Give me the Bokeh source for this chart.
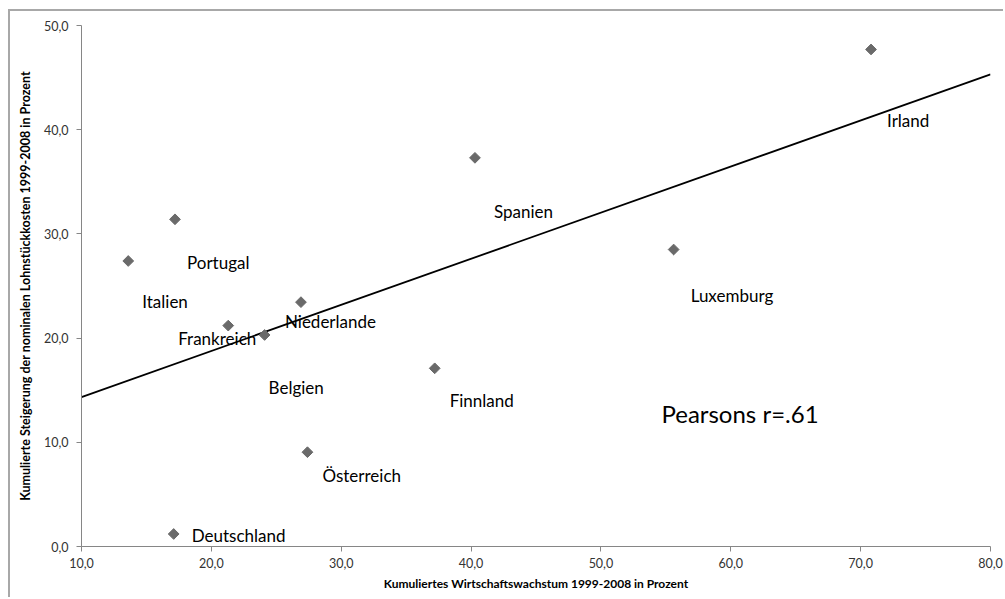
import numpy as np
from bokeh.plotting import figure
from bokeh.models import ColumnDataSource, Label, SingleIntervalTicker, CustomJSTickFormatter, Range1d
from bokeh.core.properties import value
from bokeh.embed import file_html
from bokeh.resources import INLINE

# ---- data ----
countries = ["Irland", "Spanien", "Luxemburg", "Portugal", "Italien", "Niederlande",
             "Frankreich", "Belgien", "Finnland", "Österreich", "Deutschland"]
growth = [70.8, 40.3, 55.6, 17.2, 13.6, 26.9, 21.3, 24.1, 37.2, 27.4, 17.1]
labour_cost = [47.7, 37.3, 28.5, 31.4, 27.4, 23.45, 21.2, 20.3, 17.1, 9.05, 1.2]
annotation_text = "Pearsons r=.61"
x_title = "Kumuliertes Wirtschaftswachstum 1999-2008 in Prozent"
y_title = "Kumulierte Steigerung der nominalen Lohnstückkosten 1999-2008 in Prozent"

# label offsets (pixels, style only)
label_dx = [16, 19, 17, 12, 14, -16, -50, 4, 15, 15, 18]
label_dy = [71, 54, 46, 43, 41, 19, 13, 53, 32, 23, 2]

FONT = "Lato"

p = figure(width=995, height=588, output_backend="svg", toolbar_location=None,
           x_range=Range1d(10, 80), y_range=Range1d(0, 50),
           min_border_left=71, min_border_right=15, min_border_top=14, min_border_bottom=53)
p.styles = {"margin-left": "8px", "margin-top": "9px",
            "border-top": "2px solid #a8a8a8", "border-left": "2px solid #a8a8a8"}
p.outline_line_color = None
p.xgrid.visible = False
p.ygrid.visible = False
p.background_fill_color = "white"
p.border_fill_color = "white"

# trend line (least squares from the data)
slope, intercept = np.polyfit(np.array(growth), np.array(labour_cost), 1)
xl = np.array([p.x_range.start, p.x_range.end])
p.line(xl, slope * xl + intercept, line_color="black", line_width=1.8)

src = ColumnDataSource(dict(x=growth, y=labour_cost, name=countries, dx=label_dx, dy=label_dy))
p.scatter("x", "y", source=src, marker="square", size=7.6, angle=np.pi / 4,
          fill_color="#6a6a6a", line_color="#6a6a6a")
p.text("x", "y", text="name", source=src, x_offset="dx", y_offset="dy",
       text_font=value(FONT), text_font_size="17px", text_color="black",
       text_align="left", text_baseline="middle")

p.add_layout(Label(x=54.66, y=12.73, text=annotation_text, text_font=FONT,
                   text_font_size="24px", text_color="black", text_baseline="middle"))

fmt = CustomJSTickFormatter(code="return tick.toFixed(1).replace('.', ',');")
for ax in (p.xaxis[0], p.yaxis[0]):
    ax.ticker = SingleIntervalTicker(interval=10, num_minor_ticks=0)
    ax.formatter = fmt
    ax.axis_line_color = "#868686"
    ax.major_tick_line_color = "#868686"
    ax.major_tick_out = 5
    ax.major_tick_in = 0
    ax.minor_tick_line_color = None
    ax.major_label_text_font = FONT
    ax.major_label_text_font_size = "12.5px"
    ax.major_label_text_color = "#333333"
    ax.axis_label_text_font = FONT
    ax.axis_label_text_font_style = "bold"
    ax.axis_label_text_color = "black"

p.xaxis.axis_label_text_font_size = "12px"
p.yaxis.axis_label_text_font_size = "12.5px"
p.xaxis.axis_label = x_title
p.yaxis.axis_label = y_title
p.xaxis.major_label_standoff = 6
p.xaxis.axis_label_standoff = 5
p.yaxis.major_label_standoff = 8
p.yaxis.axis_label_standoff = 8

open("out.html", "w").write(file_html(p, INLINE))
